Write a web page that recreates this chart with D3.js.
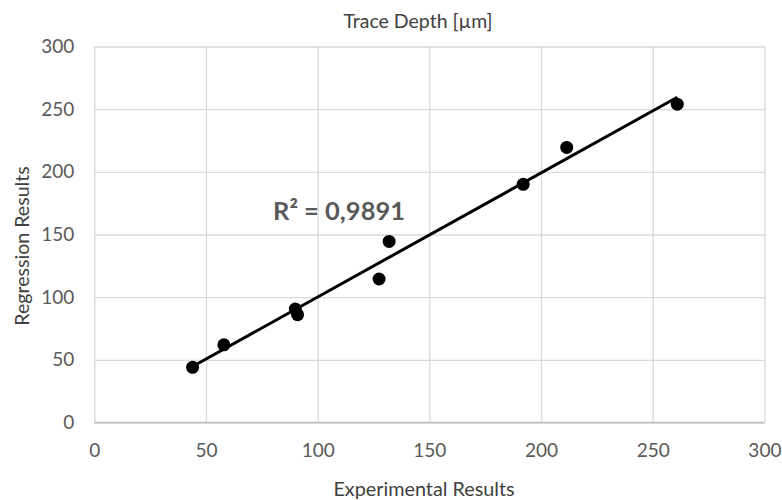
<!DOCTYPE html>
<html>
<head>
<meta charset="utf-8">
<script src="https://cdn.jsdelivr.net/npm/d3@7"></script>
<style>
  body { margin: 0; background: #fff; }
  svg { display: block; font-family: Lato, "Open Sans", sans-serif; }
</style>
</head>
<body>
<div id="chart"></div>
<script>
// data
const experimental = [44, 58, 90, 91, 127.5, 132, 192, 211.5, 261];
const regression   = [44, 62, 90.5, 86, 114.5, 144.5, 190, 219.5, 254];
const tickValues   = [0, 50, 100, 150, 200, 250, 300];
const r2Label = "R² = 0,9891";

const width = 782, height = 500;
const margin = { top: 46.5, right: 17.6, bottom: 77.5, left: 94.3 };

const svg = d3.select("#chart").append("svg")
    .attr("width", width)
    .attr("height", height);

const x = d3.scaleLinear().domain([0, 300]).range([margin.left, width - margin.right]);
const y = d3.scaleLinear().domain([0, 300]).range([height - margin.bottom, margin.top]);

// gridlines
svg.append("g")
    .attr("transform", `translate(0,${height - margin.bottom})`)
    .call(d3.axisBottom(x).tickValues(tickValues).tickSize(-(height - margin.top - margin.bottom)).tickFormat(""))
    .call(g => g.select(".domain").remove())
    .selectAll("line").attr("stroke", "#d9d9d9").attr("stroke-width", 1.3);

svg.append("g")
    .attr("transform", `translate(${margin.left},0)`)
    .call(d3.axisLeft(y).tickValues(tickValues).tickSize(-(width - margin.left - margin.right)).tickFormat(""))
    .call(g => g.select(".domain").remove())
    .selectAll("line").attr("stroke", "#d9d9d9").attr("stroke-width", 1.3);

// bottom axis line
svg.append("line")
    .attr("x1", x(0)).attr("x2", x(300))
    .attr("y1", y(0)).attr("y2", y(0))
    .attr("stroke", "#bfbfbf").attr("stroke-width", 1.6);

// tick labels
svg.append("g")
    .attr("transform", `translate(0,${height - margin.bottom})`)
    .call(d3.axisBottom(x).tickValues(tickValues).tickSize(0).tickPadding(21))
    .call(g => g.select(".domain").remove())
    .selectAll("text")
    .attr("fill", "#595959")
    .style("font-size", "19px")
    .style("font-family", "Lato, sans-serif");

svg.append("g")
    .attr("transform", `translate(${margin.left},0)`)
    .call(d3.axisLeft(y).tickValues(tickValues).tickSize(0).tickPadding(20))
    .call(g => g.select(".domain").remove())
    .selectAll("text")
    .attr("fill", "#595959")
    .style("font-size", "19px")
    .style("font-family", "Lato, sans-serif");

// titles
svg.append("text")
    .attr("x", 418).attr("y", 20)
    .attr("text-anchor", "middle").attr("dominant-baseline", "central")
    .attr("fill", "#404040").style("font-size", "19.5px")
    .text("Trace Depth [µm]");

svg.append("text")
    .attr("x", 424).attr("y", 488)
    .attr("text-anchor", "middle").attr("dominant-baseline", "central")
    .attr("fill", "#404040").style("font-size", "19.8px")
    .text("Experimental Results");

svg.append("text")
    .attr("transform", "translate(21,246) rotate(-90)")
    .attr("text-anchor", "middle").attr("dominant-baseline", "central")
    .attr("fill", "#404040").style("font-size", "19.6px")
    .text("Regression Results");

// linear trendline (least squares over the points)
const mx = d3.mean(experimental), my = d3.mean(regression);
let sxy = 0, sxx = 0;
experimental.forEach((v, i) => { sxy += (v - mx) * (regression[i] - my); sxx += (v - mx) * (v - mx); });
const slope = sxy / sxx, intercept = my - slope * mx;
const [xmin, xmax] = d3.extent(experimental);

svg.append("line")
    .attr("x1", x(xmin)).attr("y1", y(slope * xmin + intercept))
    .attr("x2", x(xmax)).attr("y2", y(slope * xmax + intercept))
    .attr("stroke", "#000").attr("stroke-width", 3);

// points
svg.append("g")
    .selectAll("circle")
    .data(experimental.map((v, i) => [v, regression[i]]))
    .join("circle")
    .attr("cx", d => x(d[0]))
    .attr("cy", d => y(d[1]))
    .attr("r", 6.5)
    .attr("fill", "#000");

// R² label
svg.append("text")
    .attr("x", 339).attr("y", 210)
    .attr("text-anchor", "middle").attr("dominant-baseline", "central")
    .attr("fill", "#595959").style("font-size", "25.5px").style("font-weight", "bold")
    .text(r2Label);
</script>
</body>
</html>
